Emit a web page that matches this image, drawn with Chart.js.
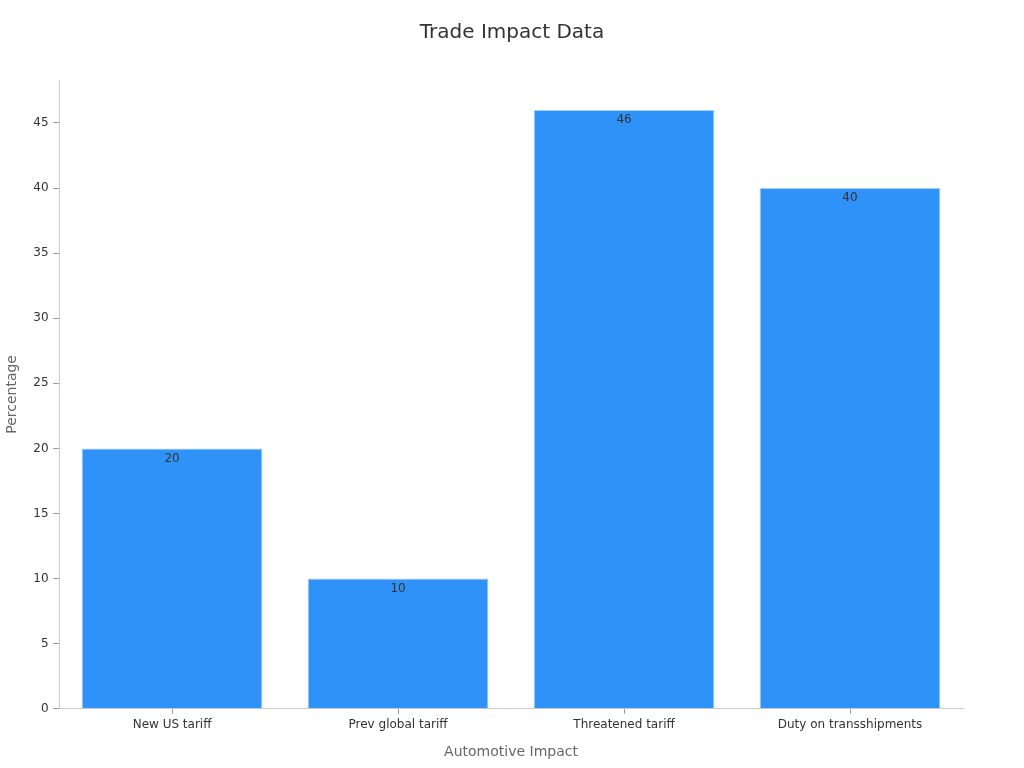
<!DOCTYPE html>
<html>
<head>
<meta charset="utf-8">
<script src="https://cdn.jsdelivr.net/npm/chart.js@4/dist/chart.umd.min.js"></script>
<style>
  html, body { margin: 0; padding: 0; background: #fff; }
  #wrap { width: 1024px; height: 768px; }
</style>
</head>
<body>
<div id="wrap"><canvas id="c" width="1024" height="768"></canvas></div>
<script>
const chartTitle = 'Trade Impact Data';
const categories = ['New US tariff', 'Prev global tariff', 'Threatened tariff', 'Duty on transshipments'];
const percentages = [20, 10, 46, 40];
const yTicks = [0, 5, 10, 15, 20, 25, 30, 35, 40, 45];

const FONT = "'DejaVu Sans', sans-serif";

// title centred on the whole canvas, value labels just inside each bar top
const decorations = {
  id: 'decorations',
  afterDatasetsDraw(chart) {
    const ctx = chart.ctx;
    const meta = chart.getDatasetMeta(0);
    ctx.save();
    ctx.font = '12px ' + FONT;
    ctx.fillStyle = '#333';
    ctx.textAlign = 'center';
    ctx.textBaseline = 'middle';
    meta.data.forEach((bar, i) => {
      ctx.fillText(String(percentages[i]), bar.x, bar.y + 10);
    });
    ctx.font = '20px ' + FONT;
    ctx.fillText(chartTitle, chart.width / 2, 33);
    ctx.restore();
  }
};

new Chart(document.getElementById('c'), {
  type: 'bar',
  data: {
    labels: categories,
    datasets: [{
      data: percentages,
      backgroundColor: '#2f92f8',
      borderColor: '#a9cff6',
      borderWidth: 1,
      barPercentage: 0.8,
      categoryPercentage: 1.0
    }]
  },
  options: {
    responsive: false,
    animation: false,
    layout: { padding: { left: 0, right: 61, top: 80, bottom: 3 } },
    plugins: {
      legend: { display: false },
      tooltip: { enabled: false },
      title: { display: false }
    },
    scales: {
      x: {
        grid: { display: true, offset: false, drawOnChartArea: false, drawTicks: true, tickLength: 5, color: '#999' },
        border: { display: true, color: '#ccc' },
        ticks: { color: '#333', font: { family: FONT, size: 12 }, padding: 4 },
        title: {
          display: true,
          text: 'Automotive Impact',
          color: '#666',
          font: { family: FONT, size: 14 },
          padding: { top: 8 }
        }
      },
      y: {
        min: 0,
        max: 48.3,
        grid: { display: true, drawOnChartArea: false, drawTicks: true, tickLength: 6, color: '#999' },
        border: { display: true, color: '#ccc' },
        afterBuildTicks(axis) {
          axis.ticks = yTicks.map(v => ({ value: v }));
        },
        ticks: { color: '#333', font: { family: FONT, size: 12 }, padding: 4.5 },
        title: {
          display: true,
          text: 'Percentage',
          color: '#666',
          font: { family: FONT, size: 14 },
          padding: { bottom: 8 }
        }
      }
    }
  },
  plugins: [decorations]
});
</script>
</body>
</html>
